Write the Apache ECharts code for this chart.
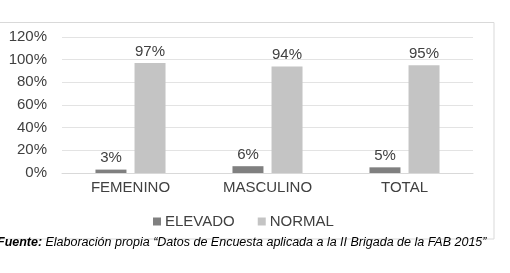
<!DOCTYPE html>
<html><head><meta charset="utf-8">
<script src="https://cdn.jsdelivr.net/npm/echarts@6/dist/echarts.min.js"></script>
<style>html,body{margin:0;padding:0;background:#fff}#c{width:510px;height:273px}</style>
</head><body><div id="c"></div>
<script>
const categories = ['FEMENINO', 'MASCULINO', 'TOTAL'];
const elevado = [3, 6, 5];
const normal = [97, 94, 95];
const yTicks = [0, 20, 40, 60, 80, 100, 120];
const seriesNames = ['ELEVADO', 'NORMAL'];
const caption = 'Elaboración propia “Datos de Encuesta aplicada a la II Brigada de la FAB 2015”';

const font = '"Liberation Sans", Arial, sans-serif';
const chart = echarts.init(document.getElementById('c'), null, {renderer: 'canvas'});
chart.setOption({
  animation: false,
  textStyle: {fontFamily: font},
  graphic: [{
    type: 'rect', shape: {x: -2, y: 22.5, width: 496, height: 216.5},
    style: {fill: 'none', stroke: '#d9d9d9', lineWidth: 1}, silent: true
  }, {
    type: 'text', left: -3, top: 236,
    style: {
      text: '{b|Fuente:} {i|' + caption + '}',
      rich: {
        b: {fontFamily: font, fontSize: 12.5, fontWeight: 'bold', fontStyle: 'italic', fill: '#000'},
        i: {fontFamily: font, fontSize: 12.5, fontStyle: 'italic', fill: '#000'}
      }
    }
  }],
  grid: {left: 62, right: 37, top: 37, bottom: 100, containLabel: false},
  legend: {
    data: seriesNames, left: 148, top: 209, itemWidth: 8, itemHeight: 8, itemGap: 23,
    icon: 'rect',
    textStyle: {fontFamily: font, fontSize: 15, color: '#404040', padding: [0, 0, 0, -1]}
  },
  xAxis: {
    type: 'category', data: categories,
    axisLine: {lineStyle: {color: '#d9d9d9'}}, axisTick: {show: false},
    axisLabel: {fontFamily: font, fontSize: 15, color: '#404040', margin: 7}
  },
  yAxis: {
    type: 'value', min: yTicks[0], max: yTicks[yTicks.length - 1], interval: 20,
    axisLine: {show: false}, axisTick: {show: false},
    splitLine: {lineStyle: {color: '#e3e3e3'}},
    axisLabel: {fontFamily: font, fontSize: 15, color: '#404040', margin: 15, formatter: v => v + '%'}
  },
  series: [{
    name: seriesNames[0], type: 'bar', data: elevado, barWidth: 31, barGap: '26%',
    itemStyle: {color: '#808080'},
    label: {show: true, position: 'top', distance: 4, formatter: p => p.value + '%', fontFamily: font, fontSize: 15, color: '#404040'}
  }, {
    name: seriesNames[1], type: 'bar', data: normal, barWidth: 31,
    itemStyle: {color: '#c4c4c4'},
    label: {show: true, position: 'top', distance: 4, formatter: p => p.value + '%', fontFamily: font, fontSize: 15, color: '#404040'}
  }]
});
</script></body></html>
